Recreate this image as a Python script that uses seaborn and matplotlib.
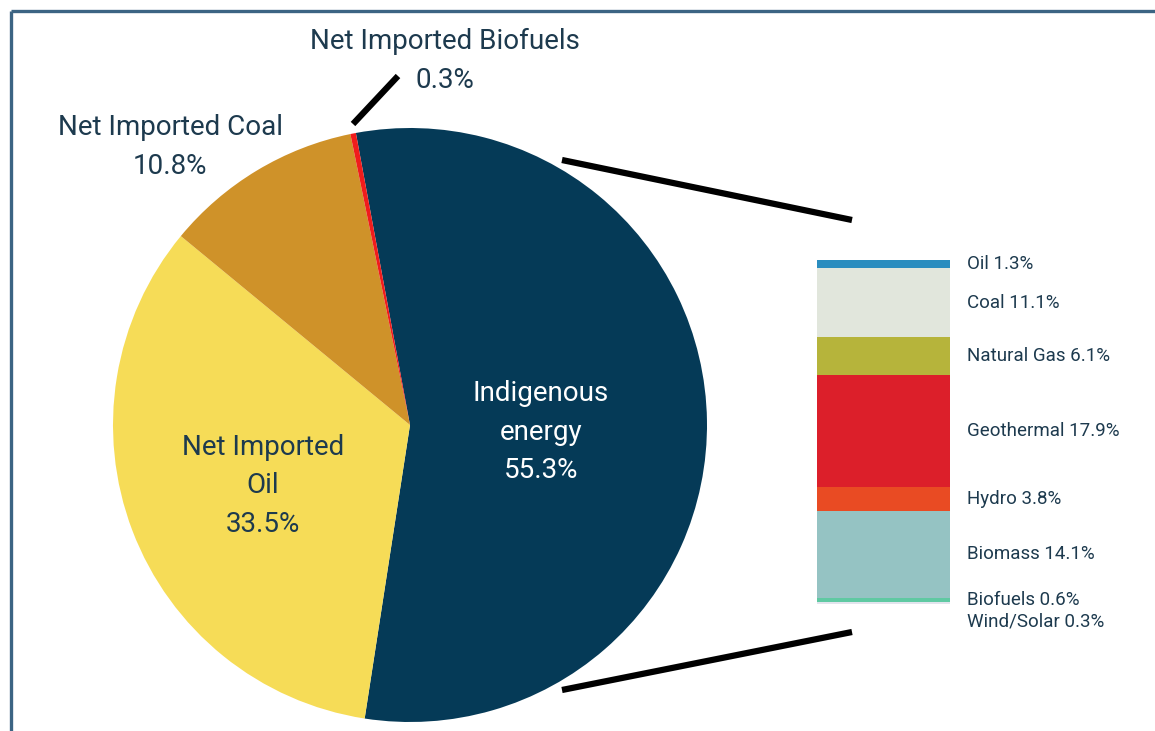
import matplotlib
matplotlib.use("Agg")
import matplotlib.pyplot as plt
import numpy as np
import seaborn as sns

# Primary energy supply shares (%)
supply_names = ["Indigenous\nenergy", "Net Imported\nOil", "Net Imported Coal", "Net Imported Biofuels"]
supply_shares = [55.3, 33.5, 10.8, 0.3]

# Breakdown of the indigenous share (%)
source_names = ["Oil", "Coal", "Natural Gas", "Geothermal", "Hydro", "Biomass", "Biofuels", "Wind/Solar"]
source_shares = [1.3, 11.1, 6.1, 17.9, 3.8, 14.1, 0.6, 0.3]

sns.set_theme(style="white")
plt.rcParams["font.family"] = ["Roboto", "DejaVu Sans"]

TEXT = "#1d3a4e"
supply_colors = ["#053a57", "#f6dc57", "#cf9229", "#f01c1c"]
source_colors = ["#2a8dbf", "#e1e6dc", "#b6b43b", "#dc1f2a", "#e94b23",
                 "#95c3c3", "#5fc9a2", "#e2e4ed"]

W, H = 1155, 731
fig = plt.figure(figsize=(W / 100, H / 100), dpi=100)
fig.patch.set_facecolor("white")

# overlay in pixel units for frame and connector lines
over = fig.add_axes([0, 0, 1, 1])
over.set_xlim(0, W)
over.set_ylim(H, 0)
over.axis("off")
over.patch.set_alpha(0)
frame_kw = dict(color="#3c6483", lw=2.4, solid_capstyle="butt")
over.plot([11, W], [11, 11], **frame_kw)
over.plot([11, 11], [11, H], **frame_kw)
line_kw = dict(color="black", lw=4.5, solid_capstyle="butt")
over.plot([562, 852], [160, 220], **line_kw)
over.plot([562, 852], [690, 632], **line_kw)
over.plot([353, 398], [124, 76], **line_kw)

# pie of total supply
cx, cy, r = 410, 425, 297
pie_ax = fig.add_axes([(cx - r) / W, (H - cy - r) / H, 2 * r / W, 2 * r / H])
pie_ax.patch.set_alpha(0)
pie_ax.pie(supply_shares, colors=supply_colors, startangle=100.5,
           counterclock=False, radius=1, wedgeprops=dict(linewidth=0))
pie_ax.set_xlim(-1, 1)
pie_ax.set_ylim(-1, 1)
pie_ax.set_aspect("equal")
pie_ax.axis("off")

label_pos = [(0.441, -0.024), (-0.495, -0.205), (-0.808, 0.936), (0.118, 1.226)]
label_col = ["white", TEXT, TEXT, TEXT]
for name, share, (lx, ly), col in zip(supply_names, supply_shares, label_pos, label_col):
    pie_ax.text(lx, ly, f"{name}\n{share:.1f}%", ha="center", va="center",
                fontsize=20, color=col, linespacing=1.55, clip_on=False)

# stacked bar of indigenous sources, top to bottom
bx0, bx1, by0, by1 = 817, 950, 260, 604
bar_ax = fig.add_axes([bx0 / W, (H - by1) / H, (bx1 - bx0) / W, (by1 - by0) / H])
total = sum(source_shares)
bottoms = np.concatenate([[0], np.cumsum(source_shares)[:-1]])
bar_ax.bar(np.zeros(len(source_shares)), source_shares, bottom=bottoms,
           width=1.0, color=source_colors, linewidth=0)
bar_ax.set_xlim(-0.5, 0.5)
bar_ax.set_ylim(total, 0)
bar_ax.axis("off")

# label positions at segment centres, spread apart where segments are thin
centers = bottoms + np.array(source_shares) / 2
min_gap = 3.4
ys = []
for c in centers:
    y = c if not ys else max(c, ys[-1] + min_gap)
    ys.append(y)
for name, share, y in zip(source_names, source_shares, ys):
    bar_ax.annotate(f"{name} {share:.1f}%", xy=(1.0, y),
                    xycoords=("axes fraction", "data"),
                    xytext=(17, 0), textcoords="offset pixels",
                    ha="left", va="center", fontsize=13.5, color=TEXT,
                    annotation_clip=False)

fig.savefig("out.png", dpi=100, facecolor="white")
